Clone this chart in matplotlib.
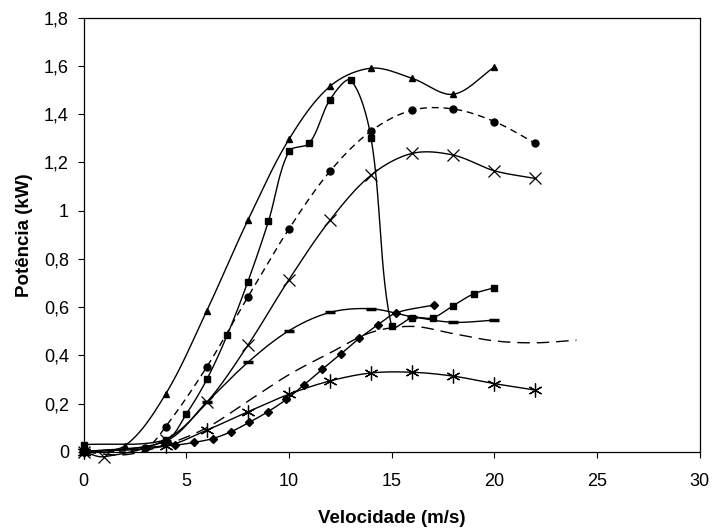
import numpy as np
import matplotlib
matplotlib.use('Agg')
import matplotlib.pyplot as plt

plt.rcParams['font.family'] = ['Liberation Sans', 'DejaVu Sans']

# --- DATA ---
tri_x = [0, 2, 4, 6, 8, 10, 12, 14, 16, 18, 20]
tri_y = [0, 0.025, 0.24, 0.585, 0.96, 1.295, 1.515, 1.59, 1.548, 1.482, 1.595]

sq_x = [0, 4, 5, 6, 7, 8, 9, 10, 11, 12, 13, 14, 15, 16, 17, 18, 19, 20]
sq_y = [0.03, 0.05, 0.157, 0.30, 0.485, 0.705, 0.955, 1.245, 1.28, 1.46, 1.54,
        1.30, 0.52, 0.556, 0.556, 0.606, 0.655, 0.68]

circ_x = [0, 3, 4, 6, 8, 10, 12, 14, 16, 18, 20, 22]
circ_y = [0, 0.018, 0.105, 0.352, 0.642, 0.924, 1.163, 1.33, 1.416, 1.421, 1.369, 1.279]

cross_x = [0, 1, 4, 6, 8, 10, 12, 14, 16, 18, 20, 22]
cross_y = [0, -0.02, 0.05, 0.205, 0.442, 0.714, 0.96, 1.147, 1.237, 1.23, 1.165, 1.133]

dash_x = [0, 4, 6, 8, 10, 12, 14, 16, 18, 20]
dash_y = [0, 0.045, 0.206, 0.371, 0.502, 0.578, 0.593, 0.56, 0.537, 0.546]

plain_x = [0, 2, 4, 6, 8, 10, 12, 14, 16, 18, 20, 22, 24]
plain_y = [0, -0.012, 0.03, 0.10, 0.21, 0.32, 0.41, 0.495, 0.52, 0.49, 0.46, 0.452, 0.463]

dia_x = [0, 4.46, 5.37, 6.28, 7.17, 8.06, 8.97, 9.88, 10.75, 11.63, 12.53, 13.42,
         14.33, 15.22, 17.04]
dia_y = [0, 0.028, 0.039, 0.055, 0.083, 0.122, 0.166, 0.218, 0.279, 0.343, 0.406,
         0.47, 0.526, 0.576, 0.608]

ast_x = [0, 4, 6, 8, 10, 12, 14, 16, 18, 20, 22]
ast_y = [0, 0.024, 0.09, 0.166, 0.239, 0.294, 0.327, 0.33, 0.314, 0.283, 0.256]

xticks = [0, 5, 10, 15, 20, 25, 30]
yticks = [0, 0.2, 0.4, 0.6, 0.8, 1.0, 1.2, 1.4, 1.6, 1.8]
ytick_labels = ['0', '0,2', '0,4', '0,6', '0,8', '1', '1,2', '1,4', '1,6', '1,8']


# Excel-like smoothed line: bezier through the points, tangents weighted by segment length
def smooth(xs, ys, n=30):
    sx, sy = 20.5, 241.3   # px per unit, so the bending is done in screen space
    p = np.column_stack([xs, ys]).astype(float) * [sx, sy]
    pts = np.vstack([p[0], p, p[-1]])
    t = np.linspace(0, 1, n)[:, None]
    out = []
    for i in range(1, len(pts) - 2):
        p0, p1, p2, p3 = pts[i - 1], pts[i], pts[i + 1], pts[i + 2]
        d01 = np.hypot(*(p1 - p0))
        d12 = np.hypot(*(p2 - p1))
        d23 = np.hypot(*(p3 - p2))
        f1 = d12 / (d01 + d12) / 3 if d01 + d12 > 0 else 0
        f2 = d12 / (d12 + d23) / 3 if d12 + d23 > 0 else 0
        c1 = p1 + (p2 - p0) * f1
        c2 = p2 - (p3 - p1) * f2
        seg = ((1 - t) ** 3) * p1 + 3 * ((1 - t) ** 2) * t * c1 + 3 * (1 - t) * t ** 2 * c2 + t ** 3 * p2
        out.append(seg if i == 1 else seg[1:])
    out = np.vstack(out) / [sx, sy]
    return out[:, 0], out[:, 1]


fig = plt.figure(figsize=(7.14, 5.31), dpi=100)
ax = fig.add_axes([0.117, 0.149, 0.863, 0.818])

K = 'black'
series = [
    (tri_x, tri_y, '^', 5.0, '-', {}),
    (sq_x, sq_y, 's', 5.0, '-', {}),
    (circ_x, circ_y, 'o', 5.0, (0, (5, 3.5)), {}),
    (cross_x, cross_y, 'x', 9.0, '-', {'mew': 0.9}),
    (dash_x, dash_y, '_', 7.0, '-', {'mew': 2.5}),
    (plain_x, plain_y, None, 0, (0, (9, 5)), {}),
    (dia_x, dia_y, 'D', 3.8, '-', {}),
    (ast_x, ast_y, (6, 2, 0), 10.0, '-', {'mew': 0.9}),
]

for xs, ys, mk, ms, ls, kw in series:
    cx, cy = smooth(xs, ys)
    ax.plot(cx, cy, color=K, lw=1.0, ls=ls, clip_on=False, zorder=2)
    if mk is not None:
        ax.plot(xs, ys, ls='none', marker=mk, ms=ms, color=K, mfc=K, mec=K,
                clip_on=False, zorder=3, **kw)

ax.set_xlim(0, 30)
ax.set_ylim(0, 1.8)
ax.set_xticks(xticks)
ax.set_xticklabels([str(v) for v in xticks])
ax.set_yticks(yticks)
ax.set_yticklabels(ytick_labels)
ax.tick_params(direction='out', length=4.5, width=0.8, labelsize=13, colors=K)
ax.tick_params(axis='y', pad=6)
ax.tick_params(axis='x', pad=11)
for s in ax.spines.values():
    s.set_linewidth(0.9)
    s.set_color(K)

ax.set_xlabel('Velocidade (m/s)', fontsize=13.5, fontweight='bold', labelpad=14)
ax.set_ylabel('Potência (kW)', fontsize=13.5, fontweight='bold', labelpad=8)

fig.savefig('out.png', dpi=100, facecolor='white')
